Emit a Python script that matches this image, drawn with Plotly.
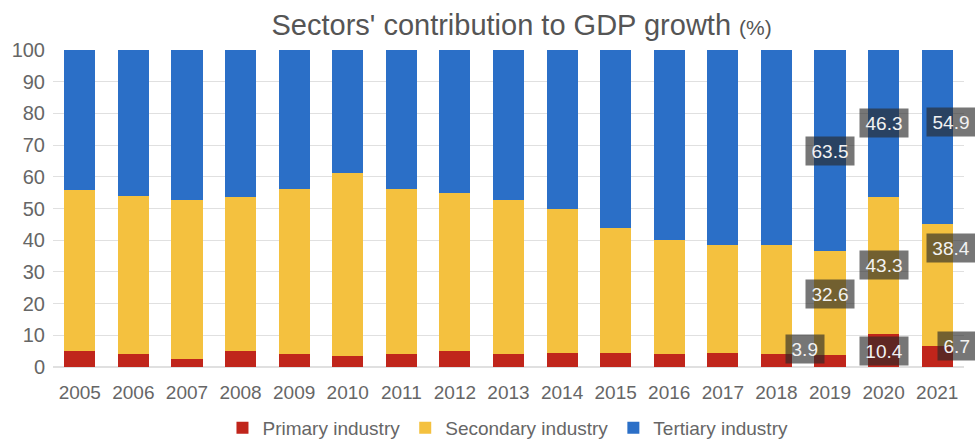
import plotly.graph_objects as go

years = [str(y) for y in range(2005, 2022)]
primary = [5.0, 4.2, 2.6, 5.0, 4.0, 3.5, 4.1, 5.0, 4.2, 4.3, 4.3, 4.1, 4.3, 4.1, 3.9, 10.4, 6.7]
secondary = [50.8, 49.8, 50.2, 48.7, 52.3, 57.6, 51.9, 49.9, 48.5, 45.7, 39.7, 35.9, 34.3, 34.3, 32.6, 43.3, 38.4]
tertiary = [44.2, 46.0, 47.2, 46.3, 43.7, 38.9, 44.0, 45.1, 47.3, 50.0, 56.0, 60.0, 61.4, 61.6, 63.5, 46.3, 54.9]
series_names = ["Primary industry", "Secondary industry", "Tertiary industry"]
labelled_years = ["2019", "2020", "2021"]

colors = ["#C0251B", "#F4C13F", "#2B6FC7"]
FONT = "Liberation Sans, Arial, Helvetica, sans-serif"

fig = go.Figure()
for name, vals, col in zip(series_names, [primary, secondary, tertiary], colors):
    fig.add_trace(go.Bar(x=years, y=vals, name=name, marker=dict(color=col, line=dict(width=0)),
                         hoverinfo="skip"))

# label pixel nudges (style) per (year, series)
shifts = {
    ("2019", 0): (-25, 12), ("2019", 1): (0, 9), ("2019", 2): (0, 0),
    ("2020", 0): (0, 0), ("2020", 1): (0, 0), ("2020", 2): (0, 0),
    ("2021", 0): (20, 10), ("2021", 1): (14, 37), ("2021", 2): (14, 15),
}
series = [primary, secondary, tertiary]
for yr in labelled_years:
    i = years.index(yr)
    base = 0.0
    for s, vals in enumerate(series):
        v = vals[i]
        xs, ys = shifts[(yr, s)]
        txt = f"{v:.1f}"
        est_w = sum(5.3 if ch == "." else 10.6 for ch in txt)
        fig.add_annotation(
            x=i, y=base + v / 2, text=txt, showarrow=False,
            xshift=xs, yshift=ys,
            width=est_w + 5, height=22,
            font=dict(family=FONT, size=19, color="#f2f2f2"),
            bgcolor="rgba(40,40,40,0.64)", borderpad=3,
        )
        base += v

fig.update_layout(
    barmode="stack",
    bargap=0.42,
    width=975, height=441,
    margin=dict(l=53, r=11, t=50, b=74),
    paper_bgcolor="white", plot_bgcolor="white",
    font=dict(family=FONT, color="#666666"),
    title=dict(
        text="Sectors' contribution to GDP growth <span style='font-size:21px'>(%)</span>",
        x=0.535, xanchor="center", xref="container",
        y=0.943, yanchor="middle", yref="container",
        font=dict(family=FONT, size=29, color="#555555"),
    ),
    legend=dict(
        orientation="h", x=0.521, xanchor="center", xref="container",
        y=0.0295, yanchor="middle", yref="container",
        font=dict(family=FONT, size=19, color="#666666"),
        traceorder="normal",
    ),
    showlegend=True,
)
fig.update_yaxes(
    range=[0, 100], dtick=10, showgrid=True, gridcolor="#e0e0e0", gridwidth=1,
    zeroline=True, zerolinecolor="#e0e0e0", showline=False, ticks="",
    tickfont=dict(family=FONT, size=20, color="#666666"), ticklabelstandoff=7,
    automargin=False,
)
fig.update_xaxes(
    type="category", range=[-0.5, 16.5],
    showgrid=False, showline=False, ticks="",
    tickfont=dict(family=FONT, size=19, color="#666666"), ticklabelstandoff=12,
    automargin=False,
)

fig.write_html("out.html", config={"displayModeBar": False},
               post_script="document.body.style.margin='0';")
